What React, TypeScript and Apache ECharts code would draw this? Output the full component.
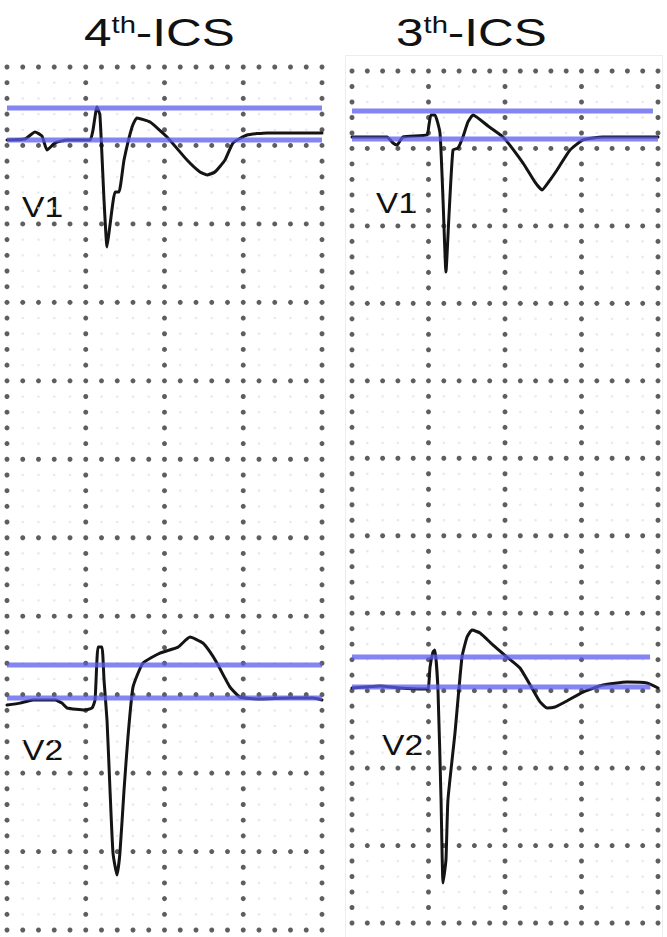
import React, { useEffect, useRef } from "react";
import * as echarts from "echarts";

// ---- data (time and depth in small ECG boxes; depth counted from the top of each strip) ----
const panelOrdinals = ["4", "3"];
const panelSuffix = "th";
const panelName = "-ICS";
const leadNames = ["V1", "V2"];

const v1Left: [number, number][] = [
  [0, 4.65], [1.14, 4.59], [1.78, 4.14], [2.22, 4.4], [2.54, 5.29], [3.05, 4.84], [3.81, 4.65],
  [5.27, 4.65], [5.46, 4.02], [5.71, 2.55], [5.9, 3.06], [6.16, 8.48], [6.35, 11.47], [6.54, 10.07],
  [6.86, 7.97], [7.11, 7.97], [7.43, 5.93], [7.94, 3.82], [8.25, 3.25], [9.08, 3.51], [10.16, 4.46],
  [11.43, 5.93], [12.25, 6.69], [12.7, 6.88], [13.2, 6.69], [13.84, 5.93], [14.35, 4.84],
  [15.24, 4.33], [16.5, 4.2], [20, 4.2],
];
const v1Right: [number, number][] = [
  [0, 4.26], [1.18, 4.26], [2.29, 4.26], [2.68, 4.65], [2.94, 4.78], [3.33, 4.26], [4.9, 4.13],
  [5.03, 3.49], [5.16, 2.84], [5.42, 2.84], [5.75, 4.0], [5.95, 8.33], [6.14, 12.98], [6.34, 9.3],
  [6.6, 5.1], [6.93, 4.97], [7.25, 4.26], [7.58, 3.29], [7.91, 2.84], [8.89, 3.55], [9.87, 4.26],
  [11.18, 5.94], [11.96, 7.17], [12.42, 7.68], [12.94, 7.04], [13.4, 6.39], [14.25, 5.1],
  [15.1, 4.45], [16.4, 4.26], [20, 4.26],
];
const v2Left: [number, number][] = [
  [0, 40.66], [0.83, 40.54], [1.65, 40.34], [3.05, 40.34], [3.49, 40.54], [3.81, 40.85],
  [4.95, 40.98], [5.4, 40.85], [5.59, 40.34], [5.78, 36.97], [6.03, 36.97], [6.16, 39.07],
  [6.35, 41.62], [6.54, 46.08], [6.73, 50.1], [6.98, 51.5], [7.17, 50.1], [7.43, 46.08],
  [7.68, 42.7], [8.0, 39.52], [8.63, 37.99], [9.71, 37.35], [10.86, 36.97], [11.62, 36.33],
  [12.44, 36.71], [12.89, 37.28], [13.33, 37.99], [14.16, 39.52], [14.79, 40.15], [16.06, 40.28],
  [17.97, 40.22], [19.43, 40.22], [20, 40.34],
];
const v2Right: [number, number][] = [
  [0, 39.83], [0.85, 39.77], [1.83, 39.7], [3.14, 39.83], [4.64, 39.9], [4.97, 39.9], [5.1, 38.48],
  [5.29, 37.51], [5.42, 37.38], [5.62, 39.96], [5.82, 47.06], [5.95, 52.42], [6.14, 50.94],
  [6.27, 47.06], [6.73, 42.74], [7.19, 37.83], [7.52, 36.54], [7.84, 36.09], [8.37, 36.28],
  [9.22, 37.06], [10.13, 37.83], [10.98, 38.54], [11.83, 39.96], [12.29, 40.73], [12.75, 41.12],
  [13.27, 41.06], [13.79, 40.8], [15.1, 40.09], [16.4, 39.64], [17.97, 39.45], [19.28, 39.51],
  [20, 39.83],
];

// blue reference levels (depth) and their right ends (time)
const refLevelsLeft = [2.61, 4.65, 38.11, 40.22];
const refEndsLeft = [20, 20, 20, 20];
const refLevelsRight = [2.58, 4.39, 37.83, 39.77];
const refEndsRight = [19.67, 20, 19.48, 19.5];

// paper grid: small boxes per strip and boxes per big square
const boxesX = 20;
const boxesY = 55;
const bigEvery = 5;

export default function App() {
  const ref = useRef<HTMLDivElement>(null);
  useEffect(() => {
    document.body.style.margin = "0";
    if (!ref.current) return;
    const chart = echarts.init(ref.current, null, { renderer: "svg" });

    const darkDots: [number, number][] = [];
    const faintDots: [number, number][] = [];
    for (let i = 0; i <= boxesX; i++) {
      for (let j = 0; j <= boxesY; j++) {
        if (i % bigEvery === 0 || j % bigEvery === 0) darkDots.push([i, j]);
        else faintDots.push([i, j]);
      }
    }

    const traces = [
      [v1Left, v2Left],
      [v1Right, v2Right],
    ];
    const refs = [
      [refLevelsLeft, refEndsLeft],
      [refLevelsRight, refEndsRight],
    ];

    const series: any[] = [];
    [0, 1].forEach((g) => {
      series.push({
        type: "scatter", xAxisIndex: g, yAxisIndex: g, data: faintDots, symbolSize: 2.6,
        itemStyle: { color: "#e4e4e4" }, silent: true, z: 1,
      });
      series.push({
        type: "scatter", xAxisIndex: g, yAxisIndex: g, data: darkDots, symbolSize: 5,
        itemStyle: { color: "#363636" }, silent: true, z: 2,
      });
      traces[g].forEach((tr) => {
        series.push({
          type: "line", xAxisIndex: g, yAxisIndex: g, data: tr, showSymbol: false, symbol: "none",
          smooth: 0.15,
          lineStyle: { color: "#141414", width: 3, join: "round", cap: "round" }, silent: true, z: 3,
        });
      });
      const [levels, ends] = refs[g];
      levels.forEach((lv, k) => {
        series.push({
          type: "line", xAxisIndex: g, yAxisIndex: g,
          data: [[0, lv], [ends[k], lv]], showSymbol: false, symbol: "none",
          lineStyle: { color: "#5b5bef", width: 5, opacity: 0.75 }, silent: true, z: 4,
        });
      });
    });

    const font = "'Liberation Sans', Arial, sans-serif";
    const mkText = (text: string, x: number, y: number, size: number) => ({
      type: "text", x, y,
      style: { text, fontSize: size, fontFamily: font, fill: "#111", align: "left", verticalAlign: "middle", textAlign: "left", textVerticalAlign: "middle" },
    });
    const titleX = [84, 396];
    const graphics: any[] = [];
    [0, 1].forEach((g) => {
      graphics.push({
        type: "group", x: titleX[g], y: 0, scaleX: 1.27,
        children: [
          mkText(panelOrdinals[g], 0, 32, 39),
          mkText(panelSuffix, 21.7, 25, 23),
          mkText(panelName, 40.8, 32, 39),
        ],
      });
    });
    const leadPos = [
      [[22, 206.6], [22, 749.6]],
      [[376, 202.6], [382, 744.6]],
    ];
    [0, 1].forEach((g) => {
      leadNames.forEach((nm, k) => {
        graphics.push({
          type: "group", x: leadPos[g][k][0], y: 0, scaleX: 1.12,
          children: [mkText(nm, 0, leadPos[g][k][1], 30)],
        });
      });
    });
    graphics.push({
      type: "rect", shape: { x: 345.5, y: 55.5, width: 317, height: 890 },
      style: { fill: "none", stroke: "#ededed", lineWidth: 1 }, z: 0, silent: true,
    });

    chart.setOption({
      animation: false,
      backgroundColor: "#ffffff",
      grid: [
        { left: 7, top: 67, width: 315, height: 863 },
        { left: 352, top: 71, width: 306, height: 852 },
      ],
      xAxis: [0, 1].map((g) => ({ gridIndex: g, type: "value", min: 0, max: boxesX, show: false })),
      yAxis: [0, 1].map((g) => ({ gridIndex: g, type: "value", min: 0, max: boxesY, inverse: true, show: false })),
      series,
      graphic: graphics,
    });
    return () => chart.dispose();
  }, []);
  return <div ref={ref} style={{ width: 667, height: 937 }} />;
}
